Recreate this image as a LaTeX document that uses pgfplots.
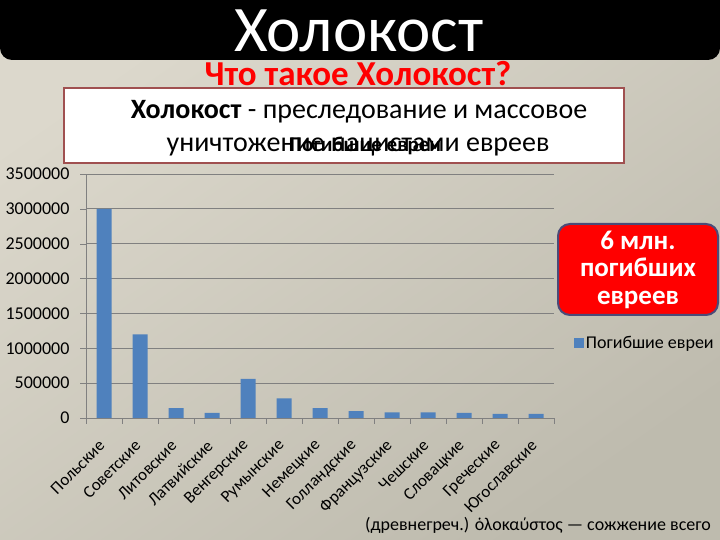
\documentclass[border=0pt]{standalone}
\usepackage{fontspec}
\setmainfont{Carlito}
\usepackage{pgfplots}
\pgfplotsset{compat=1.18}
\definecolor{bgtop}{RGB}{220,216,204}
\definecolor{bgbot}{RGB}{190,187,174}
\definecolor{barblue}{RGB}{79,129,189}
\definecolor{gridgray}{RGB}{128,128,128}
\definecolor{boxedge}{RGB}{160,80,80}
\definecolor{redbox}{RGB}{255,0,0}
\definecolor{rededge}{RGB}{75,75,120}

\begin{document}
\begin{tikzpicture}[x=1bp,y=1bp]
  \useasboundingbox (0,0) rectangle (720,540);
  \shade[top color=bgtop, bottom color=bgbot, shading angle=35] (0,0) rectangle (720,540);

  % black title banner
  \begin{scope}
    \clip (0,0) rectangle (720,540);
    \fill[black, rounded corners=12bp] (0,480) rectangle (720,580);
  \end{scope}
  \node[white, anchor=base, inner sep=0pt, font=\fontsize{65bp}{70bp}\selectfont] at (359,488) {Холокост};
  \node[redbox, anchor=base, inner sep=0pt, font=\fontsize{35bp}{38bp}\selectfont\bfseries] at (358,454) {Что такое Холокост?};

  \begin{axis}[
      at={(86bp,122bp)}, anchor=south west,
      scale only axis, width=468bp, height=244bp,
      ybar, bar width=15bp,
      xmin=-0.5, xmax=12.5,
      ymin=0, ymax=3500000,
      scaled y ticks=false,
      axis lines*=left,
      axis line style={gridgray},
      tick pos=left,
      tick align=outside,
      xtick={0,...,12},
      xticklabels={Польские, Советские, Литовские, Латвийские, Венгерские,
                   Румынские, Немецкие, Голландские, Французские, Чешские,
                   Словацкие, Греческие, Югославские},
      major x tick style={draw=none},
      minor xtick={-0.5,0.5,...,12.5},
      minor x tick style={gridgray},
      minor tick length=6bp,
      xticklabel style={xshift=-2bp, yshift=-19bp, rotate=45, anchor=east, inner sep=0pt,
                        font=\fontsize{17bp}{18bp}\selectfont},
      ytick={0,500000,...,3500000},
      yticklabels={0,500000,1000000,1500000,2000000,2500000,3000000,3500000},
      yticklabel style={font=\fontsize{18bp}{19bp}\selectfont, xshift=-7bp},
      major y tick style={gridgray},
      major tick length=6bp,
      ymajorgrids,
      grid style={gridgray, line width=0.8bp},
      legend style={at={(1.042,0.307)}, anchor=west, draw=none, fill=none,
                    font=\fontsize{18bp}{19bp}\selectfont, inner sep=0pt},
      legend image code/.code={\fill[barblue] (0bp,-5bp) rectangle (10bp,5bp);},
    ]
    \addplot[fill=barblue, draw=none] coordinates {
      (0,3000000) (1,1200000) (2,140000) (3,75000) (4,560000)
      (5,280000) (6,140000) (7,100000) (8,80000) (9,80000)
      (10,75000) (11,60000) (12,60000)
    };
    \addlegendentry{Погибшие евреи}
  \end{axis}

  % definition box over the chart title
  \draw[boxedge, line width=2bp, fill=white] (64,377) rectangle (624,452);
  \node[anchor=base, inner sep=0pt, font=\fontsize{28bp}{30bp}\selectfont] at (359,421)
    {\textbf{Холокост} - преследование и массовое};
  \node[anchor=base, inner sep=0pt, font=\fontsize{28bp}{30bp}\selectfont] at (358,388)
    {уничтожение нацистами евреев};
  \node[anchor=base, inner sep=0pt, font=\fontsize{21bp}{22bp}\selectfont\bfseries] at (365,388)
    {Погибшие евреи};

  % red callout
  \draw[rededge, line width=2bp, fill=redbox, rounded corners=12bp] (558,225) rectangle (718,316);
  \node[white, align=center, font=\fontsize{27bp}{27.5bp}\selectfont\bfseries] at (638,270.5)
    {6 млн.\\погибших\\евреев};

  \node[anchor=base east, inner sep=0pt, font=\fontsize{18bp}{19bp}\selectfont] at (711,9)
    {(древнегреч.) ὁλοκαύστος — сожжение всего};
\end{tikzpicture}
\end{document}
